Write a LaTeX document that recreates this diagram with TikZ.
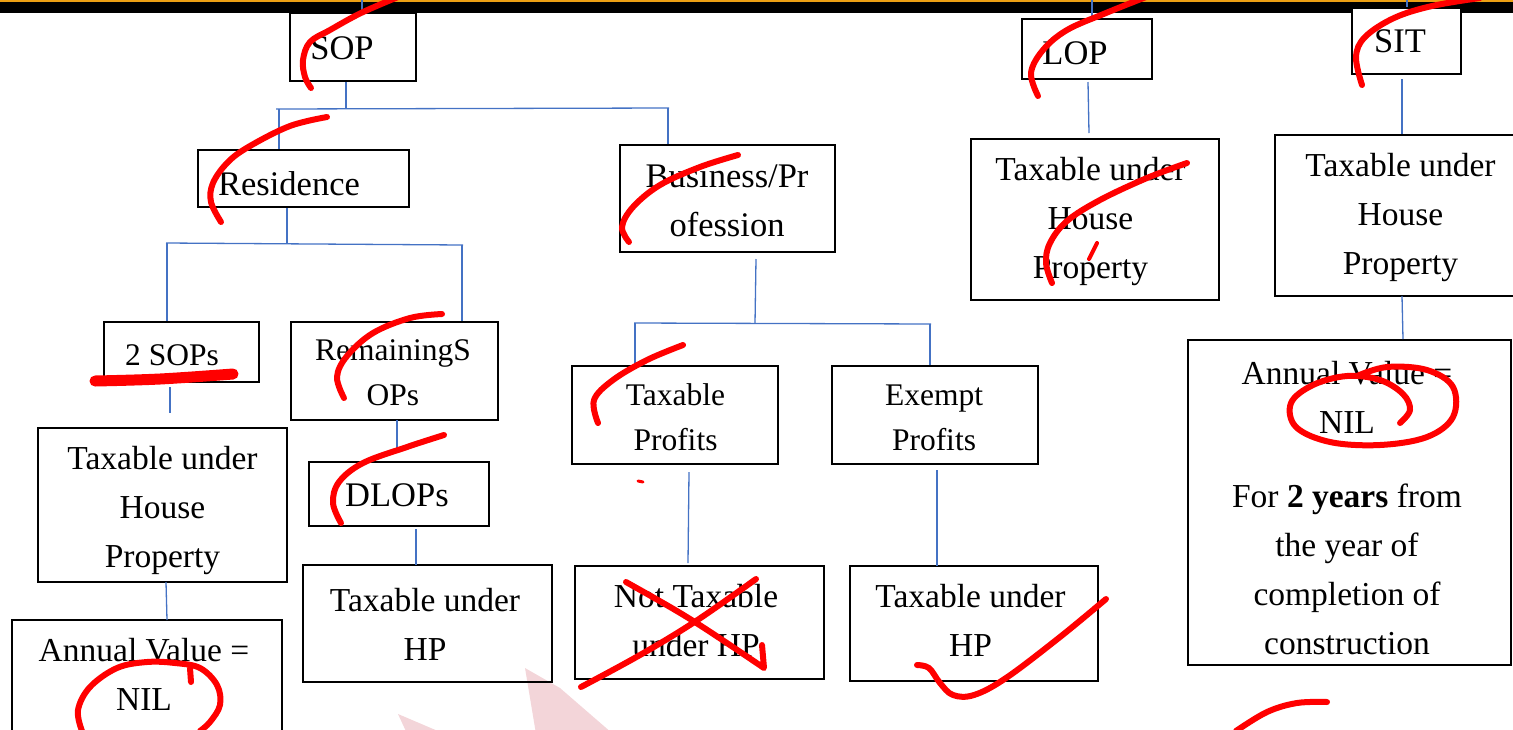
\documentclass[tikz,border=0pt]{standalone}
\usepackage{fontspec}
\setmainfont{Liberation Serif}
\definecolor{connblue}{RGB}{68,114,196}
\definecolor{barorange}{RGB}{236,160,20}
\definecolor{wmpink}{RGB}{243,213,217}
\definecolor{penred}{RGB}{255,0,0}
\begin{document}
\begin{tikzpicture}[x=1pt,y=-1pt,
  box/.style={draw=black, line width=1.8pt, inner sep=0pt},
  txt/.style={align=center, inner sep=0pt, font=\fontsize{33.5}{49}\selectfont},
  txts/.style={align=center, inner sep=0pt, font=\fontsize{31.5}{45}\selectfont},
  txtb/.style={align=center, inner sep=0pt, font=\fontsize{34.5}{49}\selectfont},
  conn/.style={draw=connblue, line width=1.3pt},
  pen/.style={draw=penred, line width=6pt, line cap=round, line join=round},
]
\useasboundingbox (0,0) rectangle (1513,729);
% top bar
\fill[black] (0,0) rectangle (1513,13);
\fill[barorange] (0,0) rectangle (1513,2);
% watermark shapes
\fill[wmpink] (525,668) -- (560,688) -- (620,740) -- (537,740) -- cycle;
\fill[wmpink] (398,714) -- (459,740) -- (410,740) -- cycle;

% boxes
\node[box, minimum width=126pt, minimum height=68pt] (sop) at (353,47) {};
\node[box, minimum width=130pt, minimum height=60pt] (lop) at (1087,49) {};
\node[box, fill=white, minimum width=109pt, minimum height=66pt] (sit) at (1406.5,41) {};
\node[box, minimum width=211pt, minimum height=57pt] (res) at (303.5,178.5) {};
\node[box, minimum width=155pt, minimum height=60pt] (two) at (181.5,352) {};
\node[box, minimum width=207pt, minimum height=98pt] (rem) at (394.5,371) {};
\node[box, minimum width=249pt, minimum height=154pt] (taxl) at (162.5,505) {};
\node[box, minimum width=270pt, minimum height=140pt] (annl) at (147,690) {};
\node[box, minimum width=180pt, minimum height=64pt] (dlop) at (399,494) {};
\node[box, minimum width=249pt, minimum height=117pt] (tuhpm) at (427.5,623.5) {};
\node[box, minimum width=215pt, minimum height=107pt] (bus) at (727.5,198.5) {};
\node[box, minimum width=206pt, minimum height=98pt] (tp) at (675,415) {};
\node[box, minimum width=206pt, minimum height=98pt] (ep) at (935,415) {};
\node[box, minimum width=249pt, minimum height=113pt] (nt) at (699.5,622.5) {};
\node[box, minimum width=248pt, minimum height=115pt] (tuhpr) at (974,623.5) {};
\node[box, minimum width=248pt, minimum height=161pt] (lopt) at (1095,219.5) {};
\node[box, minimum width=255pt, minimum height=161pt] (sitt) at (1402.5,215.5) {};
\node[box, minimum width=323pt, minimum height=325pt] (annr) at (1349.5,502.5) {};

% texts
\node[txtb] (sopL) at (342,50) {\strut SOP};
\node[txtb] (lopL) at (1075,55) {\strut LOP};
\node[txtb] (sitL) at (1400,43) {\strut SIT};
\node[txtb] (resL) at (289,186) {\strut Residence};
\node[txts] (twoL) at (172,356) {\strut 2 SOPs};
\node[txts] (remL) at (393,373.5) {\strut RemainingS\\\strut OPs};
\node[txtb] (dlopL) at (397,497) {\strut DLOPs};
\node[txt] (taxlL) at (162.5,508.7) {\strut Taxable under\\\strut House\\\strut Property};
\node[txt] (annlL) at (144,676) {\strut Annual Value =\\\strut NIL};
\node[txt] (tuhpmL) at (425,626) {\strut Taxable under\\\strut HP};
\node[txtb] (busL) at (727,202) {\strut Business/Pr\\\strut ofession};
\node[txts] (tpL) at (675.5,418.5) {\strut Taxable\\\strut Profits};
\node[txts] (epL) at (934,418.5) {\strut Exempt\\\strut Profits};
\node[txt] (ntL) at (696,621.7) {\strut Not Taxable\\\strut under HP};
\node[txt] (tuhprL) at (970.5,622) {\strut Taxable under\\\strut HP};
\node[txt] (loptL) at (1090.5,220) {\strut Taxable under\\\strut House\\\strut Property};
\node[txt] (sittL) at (1400.5,215.5) {\strut Taxable under\\\strut House\\\strut Property};
\node[txt] (annrL) at (1347,510) {\strut Annual Value =\\\strut NIL\\[25pt]\strut For \textbf{2 years} from\\\strut the year of\\\strut completion of\\\strut construction};

% connectors
\coordinate (topS) at (362,0);
\coordinate (topL) at (1092,0);
\coordinate (topT) at (1407,0);
\draw[conn] (topS) -- (sop.north -| topS);
\draw[conn] (topL) -- (lop.north -| topL);
\draw[conn] (topT) -- (sit.north -| topT);

\coordinate (j1) at (346,109);
\coordinate (j1l) at (279,109);
\coordinate (j1r) at (668,108);
\draw[conn] (sop.south -| j1) -- (j1);
\draw[conn] ([xshift=-3pt]j1l) -- ([xshift=1pt]j1r);
\draw[conn] (j1l) -- (res.north -| j1l);
\draw[conn] (j1r) -- (bus.north -| j1r);

\coordinate (j2) at (287,244);
\coordinate (j2l) at (167,243);
\coordinate (j2r) at (462,245);
\draw[conn] (res.south -| j2) -- (j2);
\draw[conn] ([xshift=-1pt]j2l) -- ([xshift=1pt]j2r);
\draw[conn] (j2l) -- (two.north -| j2l);
\draw[conn] (j2r) -- (rem.north -| j2r);

\coordinate (b0) at (756,259);
\coordinate (j3) at (755,323.5);
\coordinate (j3l) at (635,323);
\coordinate (j3r) at (930,324);
\draw[conn] (b0) -- (j3);
\draw[conn] ([xshift=-1pt]j3l) -- ([xshift=1pt]j3r);
\draw[conn] (j3l) -- (tp.north -| j3l);
\draw[conn] (j3r) -- (ep.north -| j3r);

\coordinate (c1a) at (170,387); \coordinate (c1b) at (170,413);
\draw[conn] (c1a) -- (c1b);
\coordinate (c2a) at (166,582); \coordinate (c2b) at (167,620);
\draw[conn] (c2a) -- (c2b);
\coordinate (c3a) at (397,420); \coordinate (c3b) at (397,452);
\draw[conn] (c3a) -- (c3b);
\coordinate (c4a) at (416,529); \coordinate (c4b) at (416,565);
\draw[conn] (c4a) -- (c4b);
\coordinate (c5a) at (689,472); \coordinate (c5b) at (688,563);
\draw[conn] (c5a) -- (c5b);
\coordinate (c6a) at (937,470); \coordinate (c6b) at (937,566);
\draw[conn] (c6a) -- (c6b);
\coordinate (c7a) at (1088,82); \coordinate (c7b) at (1089,133);
\draw[conn] (c7a) -- (c7b);
\coordinate (c8a) at (1402,79); \coordinate (c8b) at (1402,134);
\draw[conn] (c8a) -- (c8b);
\coordinate (c9a) at (1402,296); \coordinate (c9b) at (1403,339);
\draw[conn] (c9a) -- (c9b);

% red pen annotations
\draw[pen] plot[smooth, tension=0.6] coordinates {(398,-3) (361,13) (330,30) (310,42) (303,60) (305,77) (311,88)};
\draw[pen] plot[smooth, tension=0.6] coordinates {(1146,-3) (1106,13) (1067,30) (1043,50) (1031,73) (1038,96)};
\draw[pen] plot[smooth, tension=0.6] coordinates {(1480,-2) (1432,6) (1394,18) (1365,37) (1356,57) (1362,85)};
\draw[pen] plot[smooth, tension=0.6] coordinates {(327,117) (290,126) (250,146) (228,162) (213,183) (211,202) (221,222)};
\draw[pen] plot[smooth, tension=0.6] coordinates {(442,314) (410,318) (373,333) (347,356) (337,377) (344,398)};
\draw[pen, line width=11pt] plot[smooth, tension=0.6] coordinates {(95,381) (160,379) (233,374)};
\draw[pen] plot[smooth, tension=0.6] coordinates {(444,435) (407,447) (363,463) (339,482) (333,503) (341,523)};
\draw[pen] plot[smooth, tension=0.6] coordinates {(738,155) (700,167) (660,185) (633,207) (622,227) (629,242)};
\draw[pen] plot[smooth, tension=0.6] coordinates {(683,345) (647,360) (613,380) (594,400) (598,423)};
\draw[pen, line width=3pt] (638,481) -- (643,482);
\draw[pen] plot[smooth, tension=0.6] coordinates {(1187,163) (1147,178) (1100,200) (1067,221) (1050,243) (1046,263) (1052,283)};
\draw[pen, line width=4pt] (1097,243) -- (1089,259);
\draw[pen] plot[smooth, tension=0.6] coordinates {(581,687) (640,655) (696,621) (756,579)};
\draw[pen] (626,582) .. controls (690,618) .. (764,668) -- (762,645);
\draw[pen] plot[smooth, tension=0.6] coordinates {(917,665) (929,668) (940,683) (953,695) (974,695) (1006,678) (1060,637) (1106,599)};
\draw[pen] plot[smooth, tension=0.6] coordinates {(1400,423) (1410,410) (1403,394) (1380,380) (1347,376) (1313,385) (1291,403) (1296,427) (1330,442) (1380,445) (1427,437) (1453,417) (1453,387) (1427,370) (1387,367) (1357,376)};
\draw[pen] plot[smooth, tension=0.6] coordinates {(82,731) (78,710) (90,687) (117,668) (147,662) (175,663) (200,668) (217,685) (220,705) (210,722) (200,731)};
\draw[pen] (191,682) -- (190,668);
\draw[pen] plot[smooth, tension=0.6] coordinates {(1236,731) (1267,712) (1297,703) (1327,702)};
\end{tikzpicture}
\end{document}
